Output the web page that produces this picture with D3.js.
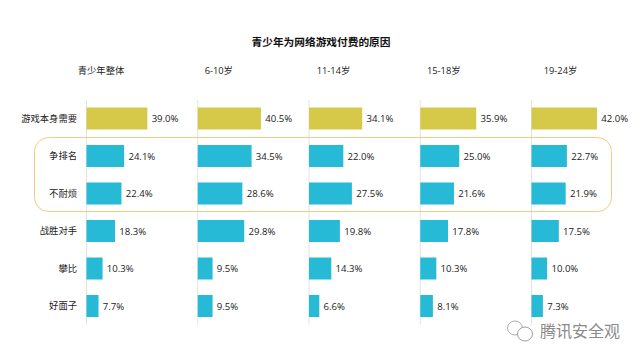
<!DOCTYPE html>
<html>
<head>
<meta charset="utf-8">
<script src="https://cdn.jsdelivr.net/npm/d3@7"></script>
<style>
  html, body { margin: 0; padding: 0; background: #fff; }
  text { font-family: "Open Sans", "Noto Sans CJK SC", sans-serif; }
</style>
</head>
<body>
<div id="chart"></div>
<script>
// chart data
const groups = ["青少年整体", "6-10岁", "11-14岁", "15-18岁", "19-24岁"];
const reasons = ["游戏本身需要", "争排名", "不耐烦", "战胜对手", "攀比", "好面子"];
const overall = [39.0, 24.1, 22.4, 18.3, 10.3, 7.7];
const age6to10 = [40.5, 34.5, 28.6, 29.8, 9.5, 9.5];
const age11to14 = [34.1, 22.0, 27.5, 19.8, 14.3, 6.6];
const age15to18 = [35.9, 25.0, 21.6, 17.8, 10.3, 8.1];
const age19to24 = [42.0, 22.7, 21.9, 17.5, 10.0, 7.3];
const seriesValues = [overall, age6to10, age11to14, age15to18, age19to24];

const width = 640, height = 360;
const textColor = "#222";

const svg = d3.select("#chart").append("svg")
  .attr("width", width)
  .attr("height", height)
  .style("display", "block");

//Scales
const panelScale = d3.scalePoint().domain(groups).range([86.5, 531.5]);
const rowScale = d3.scalePoint().domain(reasons).range([118.5, 306]);
const barScale = d3.scaleLinear().domain([0, 50]).range([0, 78]);

svg.append("text")
  .attr("x", 321).attr("y", 46)
  .attr("text-anchor", "middle")
  .attr("font-size", 10.7)
  .attr("font-weight", "bold")
  .attr("fill", "#111")
  .text("青少年为网络游戏付费的原因");

//Column headers sit a bit unevenly in the original
const headerShift = [14.5, 21, 24.5, 23.5, 29];
svg.selectAll(".header")
  .data(groups)
  .join("text")
  .attr("class", "header")
  .attr("x", (d, i) => panelScale(d) + headerShift[i])
  .attr("y", 74)
  .attr("text-anchor", "middle")
  .attr("font-size", 9.3)
  .attr("fill", textColor)
  .text(d => d);

//Panels
groups.forEach(function(group, g) {
  const x0 = panelScale(group);
  const panel = svg.append("g").attr("transform", `translate(${x0}, 0)`);

  panel.append("line")
    .attr("y1", 100).attr("y2", 324.5)
    .attr("stroke", "#e2e2e2")
    .attr("stroke-width", 1);

  panel.selectAll("rect")
    .data(seriesValues[g])
    .join("rect")
    .attr("x", 0)
    .attr("y", (d, i) => rowScale(reasons[i]) - 11)
    .attr("width", d => barScale(d))
    .attr("height", 22)
    .attr("fill", (d, i) => i === 0 ? "#d6c94a" : "#26bad6");

  panel.selectAll(".value")
    .data(seriesValues[g])
    .join("text")
    .attr("class", "value")
    .attr("x", d => barScale(d) + 4.3)
    .attr("y", (d, i) => rowScale(reasons[i]) + 3.6)
    .attr("font-size", 9.6)
    .attr("fill", textColor)
    .text(d => d.toFixed(1) + "%");
});

//Row labels
const yAxis = d3.axisLeft(rowScale).tickSize(0).tickPadding(0);
const yAxisG = svg.append("g")
  .attr("transform", "translate(77, 0)")
  .call(yAxis);
yAxisG.select(".domain").remove();
yAxisG.selectAll("text")
  .attr("font-size", 9.3)
  .attr("fill", textColor)
  .style("font-family", '"Noto Sans CJK SC", sans-serif');

//Highlight box around two rows
svg.append("rect")
  .attr("x", 34.5).attr("y", 137.5)
  .attr("width", 577).attr("height", 74)
  .attr("rx", 14).attr("ry", 14)
  .attr("fill", "none")
  .attr("stroke", "#f5c97f")
  .attr("stroke-width", 1);

//Watermark
const mark = svg.append("g");
mark.append("ellipse")
  .attr("cx", 515).attr("cy", 328).attr("rx", 7.5).attr("ry", 7)
  .attr("fill", "#fff").attr("stroke", "#999").attr("stroke-width", 0.8);
mark.append("ellipse")
  .attr("cx", 525).attr("cy", 334).attr("rx", 7.5).attr("ry", 7)
  .attr("fill", "#fff").attr("stroke", "#888").attr("stroke-width", 0.8);
mark.append("text")
  .attr("x", 540).attr("y", 337)
  .attr("font-size", 16)
  .attr("fill", "#8a8a8a")
  .style("font-family", '"Noto Sans CJK SC", sans-serif')
  .text("腾讯安全观");
</script>
</body>
</html>
